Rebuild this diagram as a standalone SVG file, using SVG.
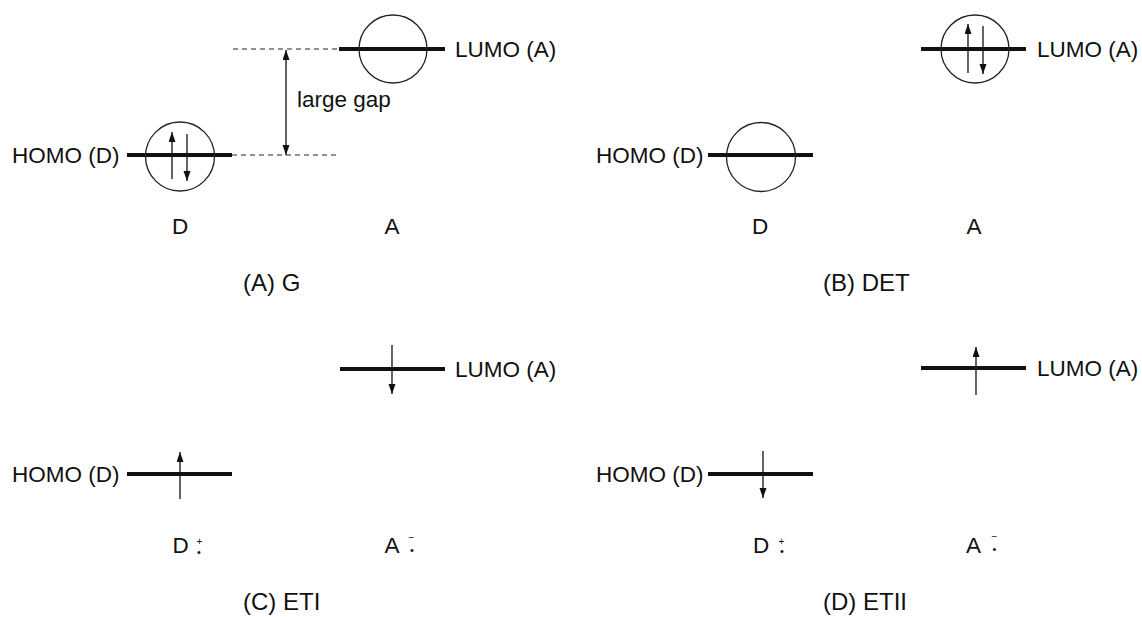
<svg xmlns="http://www.w3.org/2000/svg" width="1142" height="617" viewBox="0 0 1142 617">
<style>
text{font-family:"Liberation Sans",Arial,Helvetica,sans-serif;fill:#111;}
.lbl{font-size:22.5px;}
.cap{font-size:24px;}
.mid{text-anchor:middle;}
.lvl{stroke:#111;stroke-width:3.8;fill:none;}
.orb{stroke:#222;stroke-width:1.3;fill:none;}
.spin{stroke:#111;stroke-width:1.3;fill:none;marker-end:url(#ah);}
.dash{stroke:#222;stroke-width:1;stroke-dasharray:5 4;fill:none;}
.gap{stroke:#111;stroke-width:1.3;fill:none;marker-start:url(#ah2);marker-end:url(#ah);}
.sg{font-size:10px;text-anchor:middle;}
.dot{font-size:11px;text-anchor:middle;}
</style>
<defs>
<marker id="ah" markerUnits="userSpaceOnUse" markerWidth="11" markerHeight="8" refX="10" refY="3.5" orient="auto"><path d="M0,0 L10,3.5 L0,7 z" fill="#111"/></marker>
<marker id="ah2" markerUnits="userSpaceOnUse" markerWidth="11" markerHeight="8" refX="10" refY="3.5" orient="auto-start-reverse"><path d="M0,0 L10,3.5 L0,7 z" fill="#111"/></marker>
</defs>
<rect width="1142" height="617" fill="#fff"/>

<g id="connectors">
<line class="dash" x1="233" y1="49" x2="339" y2="49"/>
<line class="dash" x1="232" y1="155" x2="340" y2="155"/>
<line class="gap" x1="286" y1="50" x2="286" y2="155"/>
<text class="lbl" x="297" y="107">large gap</text>
</g>

<!-- Panel A -->
<g id="A-homo">
<text class="lbl" x="12" y="163">HOMO (D)</text>
<line class="lvl" x1="127" y1="155" x2="232" y2="155"/>
<circle class="orb" cx="180" cy="156.5" r="34.5"/>
<line class="spin" x1="172" y1="179" x2="172" y2="132"/>
<line class="spin" x1="187" y1="134" x2="187" y2="181"/>
</g>
<g id="A-lumo">
<line class="lvl" x1="339" y1="49" x2="445" y2="49"/>
<circle class="orb" cx="393" cy="49" r="34"/>
<text class="lbl" x="455" y="57">LUMO (A)</text>
</g>
<g id="A-labels">
<text class="lbl mid" x="180" y="234">D</text>
<text class="lbl mid" x="392" y="234">A</text>
<text class="cap" x="243" y="291">(A) G</text>
</g>

<!-- Panel B -->
<g id="B-homo">
<text class="lbl" x="596" y="163">HOMO (D)</text>
<line class="lvl" x1="708" y1="155" x2="813" y2="155"/>
<circle class="orb" cx="761" cy="157" r="34.5"/>
</g>
<g id="B-lumo">
<line class="lvl" x1="921" y1="49" x2="1026" y2="49"/>
<circle class="orb" cx="975" cy="49" r="34"/>
<line class="spin" x1="968" y1="73" x2="968" y2="24"/>
<line class="spin" x1="983" y1="26" x2="983" y2="74"/>
<text class="lbl" x="1037" y="57">LUMO (A)</text>
</g>
<g id="B-labels">
<text class="lbl mid" x="760" y="234">D</text>
<text class="lbl mid" x="974" y="234">A</text>
<text class="cap" x="823" y="291">(B) DET</text>
</g>

<!-- Panel C -->
<g id="C-homo">
<text class="lbl" x="12" y="482">HOMO (D)</text>
<line class="lvl" x1="127" y1="474" x2="232" y2="474"/>
<line class="spin" x1="180" y1="499" x2="180" y2="452"/>
</g>
<g id="C-lumo">
<line class="lvl" x1="340" y1="369" x2="445" y2="369"/>
<line class="spin" x1="392" y1="345" x2="392" y2="394"/>
<text class="lbl" x="455" y="377">LUMO (A)</text>
</g>
<g id="C-labels">
<text class="lbl mid" x="180.5" y="553">D</text>
<text class="sg" x="199.5" y="545">+</text>
<text class="dot" x="199" y="556">•</text>
<text class="lbl mid" x="392" y="553">A</text>
<text class="sg" x="411.5" y="541">−</text>
<text class="dot" x="412" y="553.5">•</text>
<text class="cap" x="243" y="610">(C) ETI</text>
</g>

<!-- Panel D -->
<g id="D-homo">
<text class="lbl" x="596" y="482">HOMO (D)</text>
<line class="lvl" x1="708" y1="474" x2="813" y2="474"/>
<line class="spin" x1="763" y1="451" x2="763" y2="498"/>
</g>
<g id="D-lumo">
<line class="lvl" x1="921" y1="368" x2="1026" y2="368"/>
<line class="spin" x1="976" y1="395" x2="976" y2="347"/>
<text class="lbl" x="1037" y="376">LUMO (A)</text>
</g>
<g id="D-labels">
<text class="lbl mid" x="761" y="553">D</text>
<text class="sg" x="781.5" y="545">+</text>
<text class="dot" x="782" y="555">•</text>
<text class="lbl mid" x="973.5" y="553">A</text>
<text class="sg" x="994.5" y="540">−</text>
<text class="dot" x="994.5" y="552.5">•</text>
<text class="cap" x="823" y="610">(D) ETII</text>
</g>
</svg>
